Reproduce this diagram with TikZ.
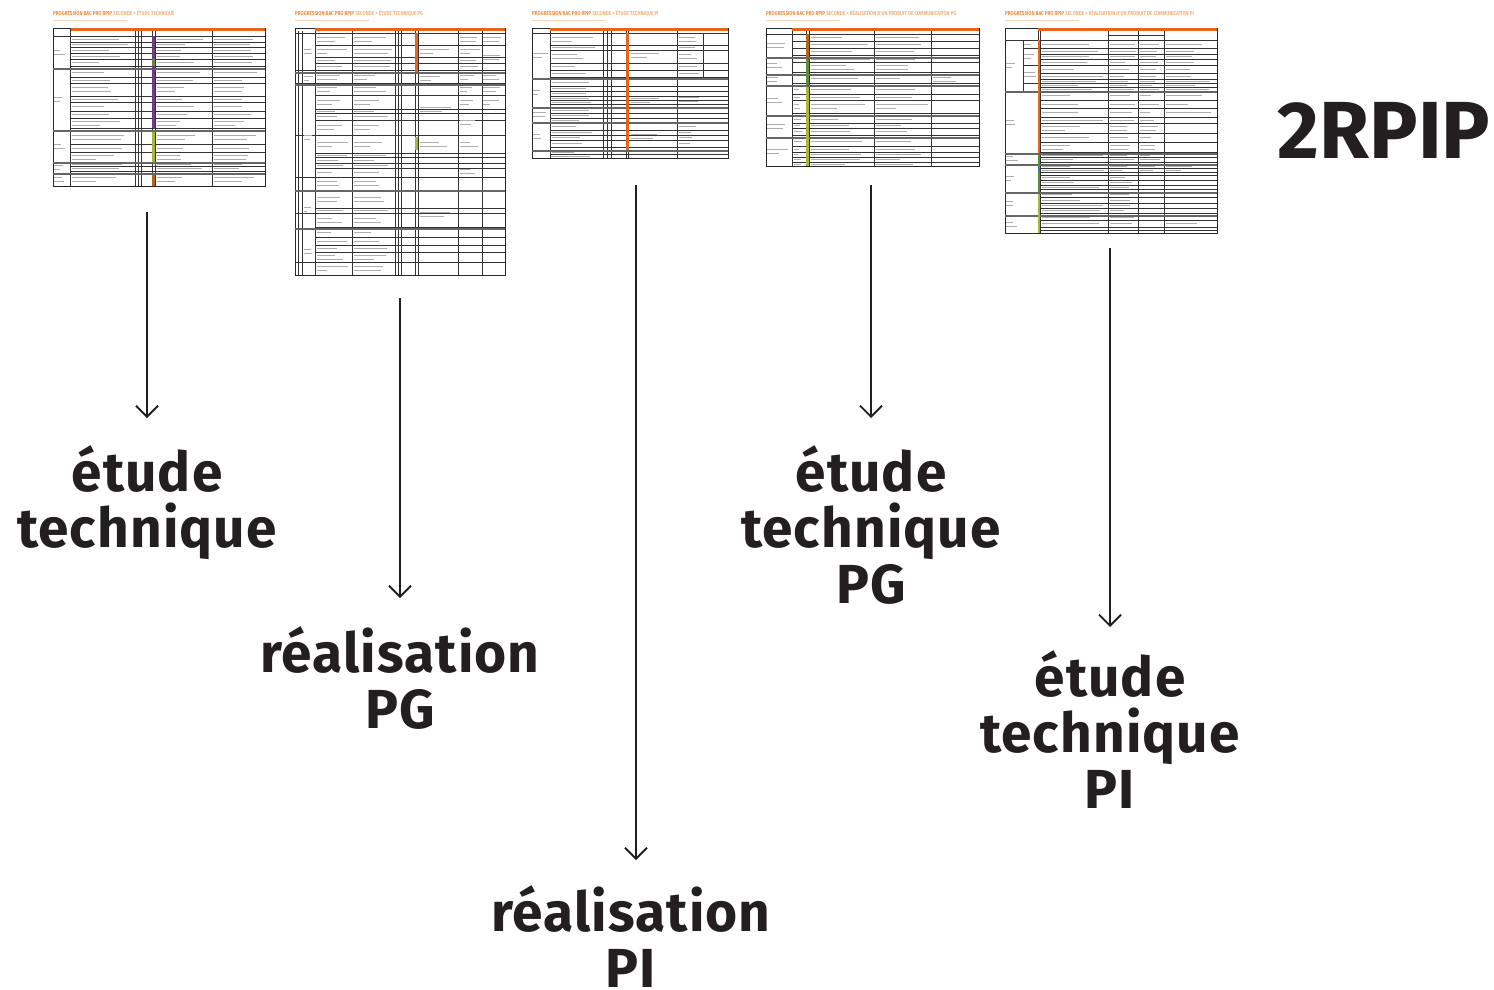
\documentclass[tikz,border=0pt]{standalone}
\usepackage{fontspec}
\setmainfont{Fira Sans}
\newfontfamily\bigfont[LetterSpace=2]{Fira Sans}
\newfontfamily\ttlfont[FakeStretch=0.8]{Fira Sans}
\usetikzlibrary{arrows.meta,calc}
\definecolor{ink}{HTML}{231F20}
\definecolor{thor}{HTML}{E8641B}
\definecolor{ttlA}{HTML}{F08A3C}
\definecolor{ttlB}{HTML}{F5B07A}
\definecolor{subt}{HTML}{F9D3B3}
\definecolor{tpurple}{HTML}{6E3F80}
\definecolor{tgreen}{HTML}{5E8C3A}
\definecolor{tolive}{HTML}{A8B63A}
\definecolor{tbrown}{HTML}{B5651D}
\definecolor{tblue}{HTML}{3F6FB5}
% fake (illegible) text lines in a column of a thumbnail table
\newcommand\ftext[3]{%
  \foreach \r [count=\i, remember=\r as \lr] in {#3}{%
    \ifnum\i>1
      \pgfmathsetmacro\hh{\r-\lr}%
      \pgfmathsetmacro\ym{(\lr+\r)/2}%
      \pgfmathsetmacro\ll{#2*(0.45+0.55*rnd)}%
      \ifdim\hh pt>9pt
        \pgfmathsetmacro\lb{#2*(0.3+0.6*rnd)}%
        \draw[ttext] (#1,\ym-2) -- ++(\ll,0);
        \draw[ttext] (#1,\ym+2) -- ++(\lb,0);
      \else\ifdim\hh pt>3pt
        \draw[ttext] (#1,\ym) -- ++(\ll,0);
      \fi\fi
    \fi}}
\begin{document}
\begin{tikzpicture}[x=1pt,y=-1pt,
  lbl/.style={font=\bigfont\fontsize{55}{56}\selectfont\bfseries, text=ink, align=center, inner sep=0pt, anchor=north},
  flow/.style={draw=ink, line width=1.9pt, -{Straight Barb[length=11pt,width=22pt]}},
  tframe/.style={draw=black!85, line width=0.45pt, fill=white, anchor=north west, inner sep=0pt},
  tline/.style={draw=black!80, line width=0.3pt},
  tband/.style={fill=black!60},
  ttext/.style={draw=black!32, line width=0.6pt},
  ttitle/.style={font=\ttlfont\fontsize{5.7}{6}\selectfont\bfseries, anchor=base west, inner sep=0pt},
  tsub/.style={draw=subt, line width=1.4pt},
]
\pgfmathsetseed{11}
\useasboundingbox (0,0) rectangle (1494,990);

% ---------- thumbnail 1 ----------
\begin{scope}[shift={(53,28)}]
  \node[ttitle] (t1title) at (0,-12) {\textcolor{ttlA}{PROGRESSION BAC PRO RPIP} \textcolor{ttlB}{SECONDE > ÉTUDE TECHNIQUE}};
  \draw[tsub] (0,-7.5) -- (74,-7.5);
  \node[tframe, minimum width=212pt, minimum height=158pt] (t1) at (0,0) {};
  \fill[thor] (17,0) rectangle (212,3);
  \draw[tline] (17,0) -- (17,158) (0,8) -- (17,8);
  \foreach \c in {82,85,88,99,102,159} \draw[tline] (\c,3) -- (\c,158);
  \foreach \r in {8,14,19,25,31,38,49,55,68,74,83,90,100,116,124,138,143} \draw[tline] (17,\r) -- (212,\r);
  \foreach \r in {40,102,134,145} \fill[tband] (0,\r) rectangle (212,\r+1.8);
  \fill[tpurple] (99,8) rectangle (102,100);
  \fill[tgreen] (99,31) rectangle (102,38);
  \fill[tolive] (99,104) rectangle (102,134);
  \fill[tbrown] (99,147) rectangle (102,158);
  \ftext{19}{58}{8,14,19,25,31,38,40,49,55,68,74,83,90,100,102,116,124,134,138,143,145,158}
  \ftext{104}{48}{8,14,19,25,31,38,40,49,55,68,74,83,90,100,102,116,124,134,138,143,145,158}
  \ftext{161}{48}{8,14,19,25,31,38,40,49,55,68,74,83,90,100,102,116,124,134,138,143,145,158}
  \ftext{1}{14}{8,40,102,134,145,158}
\end{scope}

% ---------- thumbnail 2 ----------
\begin{scope}[shift={(295,28)}]
  \node[ttitle] (t2title) at (0,-12) {\textcolor{ttlA}{PROGRESSION BAC PRO RPIP} \textcolor{ttlB}{SECONDE > ÉTUDE TECHNIQUE PG}};
  \draw[tsub] (0,-7.5) -- (74,-7.5);
  \node[tframe, minimum width=210pt, minimum height=247pt] (t2) at (0,0) {};
  \fill[thor] (20,0) rectangle (210,3);
  \foreach \c in {3.4,7.4,20,57,100,103,106.3,120,123.3,163.4,186.7} \draw[tline] (\c,3) -- (\c,247);
  \foreach \r in {5,17,29,35,42,55,67,81,85,92,107,125,129,135,140,149,180,185,199,209,217,224,234} \draw[tline] (20,\r) -- (210,\r);
  \foreach \r in {5,42,55,107,149,185,234} \draw[tline] (0,\r) -- (20,\r);
  \foreach \r in {44,56,162,200} \fill[tband] (0,\r) rectangle (210,\r+1.8);
  \fill[thor] (120,5) rectangle (123.3,44);
  \fill[tolive] (120,109) rectangle (123.3,122);
  \ftext{22}{32}{5,17,29,35,42,44,55,56,67,81,85,92,107,125,129,135,140,149,162,180,185,199,200,209,217,224,234,247}
  \ftext{59}{38}{5,17,29,35,42,44,55,56,67,81,85,92,107,125,129,135,140,149,162,180,185,199,200,209,217,224,234,247}
  \ftext{125}{36}{5,42,44,56,107,125,247}
  \ftext{165}{20}{5,17,29,35,42,44,55,56,67,81,107,125,162}
  \ftext{188}{20}{5,17,42,44,55,56,67,81}
  \ftext{8.5}{10}{5,42,44,56,162,200,247}
\end{scope}

% ---------- thumbnail 3 ----------
\begin{scope}[shift={(532,28)}]
  \node[ttitle] (t3title) at (0,-12) {\textcolor{ttlA}{PROGRESSION BAC PRO RPIP} \textcolor{ttlB}{SECONDE > ÉTUDE TECHNIQUE PI}};
  \draw[tsub] (0,-7.5) -- (74,-7.5);
  \node[tframe, minimum width=196pt, minimum height=130pt] (t3) at (0,0) {};
  \fill[thor] (18,0) rectangle (196,3);
  \draw[tline] (0,5) -- (18,5);
  \foreach \c in {18,71,75,79,94,96.5,145} \draw[tline] (\c,3) -- (\c,130);
  \draw[tline] (171,5) -- (171,49);
  \foreach \r in {5,17,22,35,42,49,58,63,68,72,76,85,90,102,107,112,119,126} \draw[tline] (18,\r) -- (196,\r);
  \foreach \r in {50,79,94,122} \fill[tband] (0,\r) rectangle (196,\r+1.8);
  \fill[thor] (94,5) rectangle (96.5,122);
  \ftext{20}{48}{5,17,22,35,42,49,50,58,63,68,72,76,79,85,90,94,102,107,112,119,122,126,130}
  \ftext{99}{42}{5,50,94,122}
  \ftext{147}{22}{5,17,22,35,42,49,94,102,107,112,119,122}
  \ftext{1}{15}{5,50,79,94,122}
\end{scope}

% ---------- thumbnail 4 ----------
\begin{scope}[shift={(766,28)}]
  \node[ttitle] (t4title) at (0,-12) {\textcolor{ttlA}{PROGRESSION BAC PRO RPIP} \textcolor{ttlB}{SECONDE > RÉALISATION D'UN PRODUIT DE COMMUNICATION PG}};
  \draw[tsub] (0,-7.5) -- (74,-7.5);
  \node[tframe, minimum width=213pt, minimum height=138pt] (t4) at (0,0) {};
  \fill[thor] (26,0) rectangle (213,3);
  \draw[tline] (0,6) -- (26,6);
  \foreach \c in {26,40,43,108,165} \draw[tline] (\c,3) -- (\c,138);
  \foreach \r in {6,13,20,27,34,44,55,66,72,85,95,100,107,118,124,129,134} \draw[tline] (26,\r) -- (213,\r);
  \foreach \r in {29,46,57,87,109} \fill[tband] (0,\r) rectangle (213,\r+1.8);
  \fill[tbrown] (40,6) rectangle (43,29);
  \fill[tgreen] (40,31) rectangle (43,57);
  \fill[tolive] (40,59) rectangle (43,138);
  \ftext{45}{60}{6,13,20,27,29,34,44,46,55,57,66,72,85,87,95,100,107,109,118,124,129,134,138}
  \ftext{110}{52}{6,13,20,27,29,34,44,46,55,57,66,72,85,87,95,100,107,109,118,124,129,134,138}
  \ftext{28}{9}{57,66,72,85,87,95,100,107,109,118,124,129,134,138}
  \ftext{167}{32}{46,57}
  \ftext{1}{22}{6,29,46,57,87,109,138}
\end{scope}

% ---------- thumbnail 5 ----------
\begin{scope}[shift={(1005,28)}]
  \node[ttitle] (t5title) at (0,-12) {\textcolor{ttlA}{PROGRESSION BAC PRO RPIP} \textcolor{ttlB}{SECONDE > RÉALISATION D'UN PRODUIT DE COMMUNICATION PI}};
  \draw[tsub] (0,-7.5) -- (74,-7.5);
  \node[tframe, minimum width=212pt, minimum height=205pt] (t5) at (0,0) {};
  \fill[thor] (33,0) rectangle (212,3);
  \draw[tline] (103,7) -- (159,7) (0,12) -- (33,12);
  \foreach \c in {33,35,103,133,159} \draw[tline] (\c,3) -- (\c,205);
  \draw[tline] (18,12) -- (18,63);
  \foreach \r in {12,20,26,31,37,45,51,55,59,72,80,89,95,105,114,124,129,134,140,144,147,152,157,161,169,175,180,185,192,199,202} \draw[tline] (35,\r) -- (212,\r);
  \foreach \r in {20,37,55} \draw[tline] (18,\r) -- (33,\r);
  \foreach \r in {63,125,136,164,187} \fill[tband] (0,\r) rectangle (212,\r+1.8);
  \fill[thor] (33,12) rectangle (35,125);
  \fill[tgreen] (33,127) rectangle (35,164);
  \fill[tblue] (33,140) rectangle (35,144);
  \fill[tolive] (33,166) rectangle (35,205);
  \ftext{37}{62}{12,20,26,31,37,45,51,55,59,63,72,80,89,95,105,114,124,125,129,134,136,140,144,147,152,157,161,164,169,175,180,185,187,192,199,202,205}
  \ftext{105}{26}{12,20,26,31,37,45,51,55,59,63,72,80,89,95,105,114,124,125,129,134,136,140,144,147,152,157,161,164,169,175,180,185,187,192,199,202,205}
  \ftext{135}{22}{12,20,26,31,37,45,51,55,59,63,72,80,89,95,105,114,124,125,129,134,136,140,144,147}
  \ftext{161}{45}{12,20,26,31,37,45,51,55,59,63,72,80,89,192,199,202}
  \ftext{1}{15}{12,63,125,136,164,187,205}
  \ftext{19}{13}{12,20,37,55}
\end{scope}

% ---------- title ----------
\node[font=\fontsize{81}{81}\selectfont\bfseries, text=ink, inner sep=0pt] (title) at (1384,130) {2RPIP};

% ---------- labels ----------
\node[lbl] (l1) at (147,445) {étude\\technique};
\node[lbl] (l2) at (400,626) {réalisation\\PG};
\node[lbl] (l3) at (631,885) {réalisation\\PI};
\node[lbl] (l4) at (871,445) {étude\\technique\\PG};
\node[lbl] (l5) at (1110,650) {étude\\technique\\PI};

% ---------- arrows ----------
\coordinate (s1) at (147,212);
\coordinate (s2) at (400,298);
\coordinate (s3) at (636,185);
\coordinate (s4) at (871,185);
\coordinate (s5) at (1110,248);
\draw[flow, shorten >=27pt] (s1) -- (s1 |- l1.north);
\draw[flow, shorten >=28pt] (s2) -- (s2 |- l2.north);
\draw[flow, shorten >=25pt] (s3) -- (s3 |- l3.north);
\draw[flow, shorten >=27pt] (s4) -- (s4 |- l4.north);
\draw[flow, shorten >=23pt] (s5) -- (s5 |- l5.north);
\end{tikzpicture}
\end{document}
